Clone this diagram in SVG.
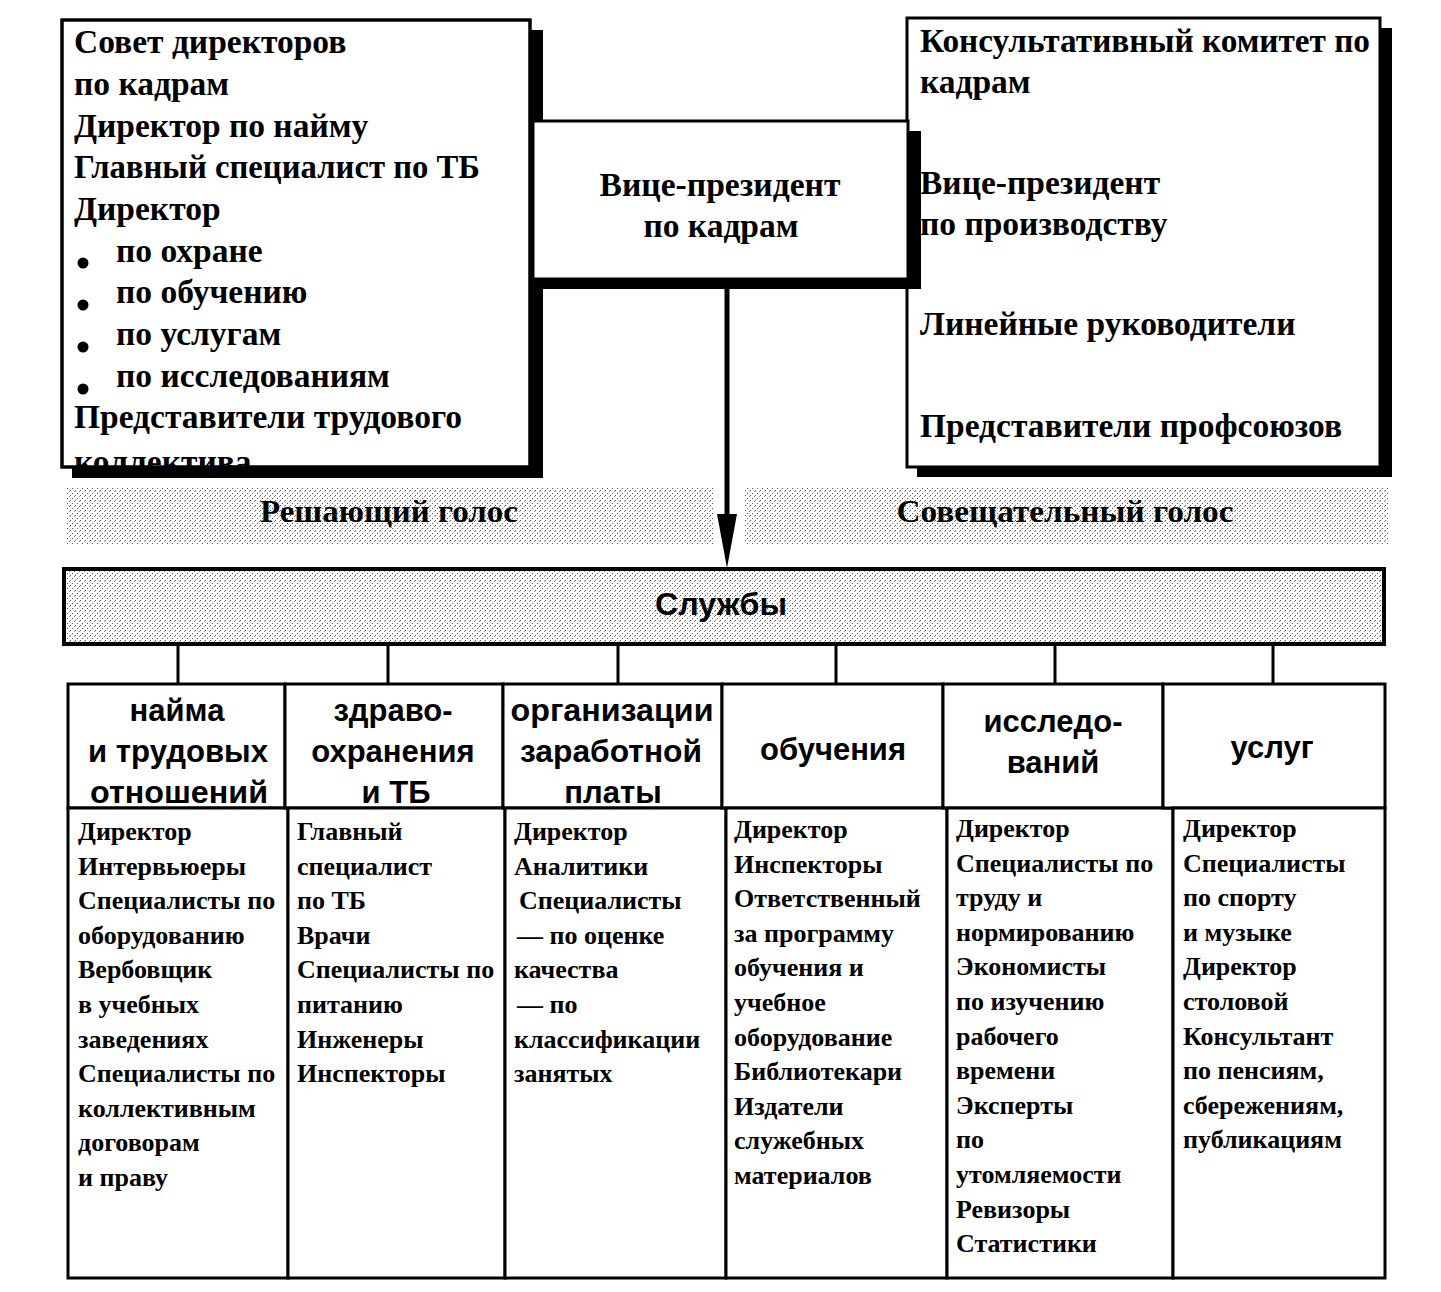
<svg xmlns="http://www.w3.org/2000/svg" width="1441" height="1292" viewBox="0 0 1441 1292">
<style>
.box{fill:#fff;stroke:#000;stroke-width:3}
.sh{fill:#000}
.t{font-family:"Liberation Serif","Times New Roman",serif;font-weight:bold;font-size:33.5px;fill:#000}
.lbl{font-family:"Liberation Serif","Times New Roman",serif;font-weight:bold;font-size:32px;fill:#000;text-anchor:middle}
.b{font-family:"Liberation Serif","Times New Roman",serif;font-weight:bold;font-size:26px;fill:#000}
.h{font-family:"Liberation Sans",Arial,sans-serif;font-weight:bold;font-size:31px;fill:#000;text-anchor:middle}
.ln{stroke:#000;stroke-width:3;fill:none}
.dot{fill:url(#stipple)}
</style>
<defs>
<pattern id="stipple" width="5" height="5" patternUnits="userSpaceOnUse">
<rect width="5" height="5" fill="#fff"/>
<rect x="0" y="0" width="1" height="1" fill="#555"/>
<rect x="2" y="3" width="1" height="1" fill="#555"/>
<rect x="4" y="1" width="1" height="1" fill="#888"/>
</pattern>
<clipPath id="clipL"><rect x="62" y="20" width="468" height="447"/></clipPath>
<marker id="arr" markerWidth="54" markerHeight="20" refX="26" refY="10" orient="auto" markerUnits="userSpaceOnUse" viewBox="0 0 54 20">
<path d="M0,0 L54,10 L0,20 Z" fill="#000"/>
</marker>
</defs>

<g id="band">
<rect class="dot" x="66" y="488" width="648" height="56"/>
<rect class="dot" x="745" y="488" width="643" height="56"/>
<text class="lbl" x="389" y="522" textLength="258" lengthAdjust="spacingAndGlyphs">Решающий голос</text>
<text class="lbl" x="1065" y="522" textLength="337" lengthAdjust="spacingAndGlyphs">Совещательный голос</text>
</g>

<g id="council">
<rect class="sh" x="72" y="30" width="471" height="448"/>
<rect class="box" x="62" y="20" width="468" height="447"/>
<g clip-path="url(#clipL)">
<text class="t" x="74" y="53">Совет директоров</text>
<text class="t" x="74" y="95">по кадрам</text>
<text class="t" x="74" y="137">Директор по найму</text>
<text class="t" x="74" y="178" textLength="406" lengthAdjust="spacingAndGlyphs">Главный специалист по ТБ</text>
<text class="t" x="74" y="220">Директор</text>
<circle cx="83" cy="263" r="5.5"/>
<text class="t" x="116" y="262">по охране</text>
<circle cx="83" cy="305" r="5.5"/>
<text class="t" x="116" y="303">по обучению</text>
<circle cx="83" cy="347" r="5.5"/>
<text class="t" x="116" y="345">по услугам</text>
<circle cx="83" cy="389" r="5.5"/>
<text class="t" x="116" y="387">по исследованиям</text>
<text class="t" x="74" y="428">Представители трудового</text>
<text class="t" x="74" y="473">коллектива</text>
</g>
<rect x="62" y="20" width="468" height="447" fill="none" stroke="#000" stroke-width="3"/>
</g>

<g id="committee">
<rect class="sh" x="917" y="28" width="475" height="449"/>
<rect class="box" x="907" y="18" width="473" height="449"/>
<text class="t" x="920" y="52" textLength="450" lengthAdjust="spacingAndGlyphs">Консультативный комитет по</text>
<text class="t" x="920" y="93">кадрам</text>
<text class="t" x="920" y="194">Вице-президент</text>
<text class="t" x="920" y="235">по производству</text>
<text class="t" x="920" y="335">Линейные руководители</text>
<text class="t" x="920" y="437">Представители профсоюзов</text>
</g>

<g id="vp">
<rect class="sh" x="543" y="131" width="378" height="158"/>
<rect class="box" x="533" y="121" width="375" height="158"/>
<text class="t" x="720" y="196" text-anchor="middle" textLength="241" lengthAdjust="spacingAndGlyphs">Вице-президент</text>
<text class="t" x="721" y="237" text-anchor="middle">по кадрам</text>
</g>

<g id="services">
<rect x="64" y="569" width="1320" height="75" fill="url(#stipple)" stroke="#000" stroke-width="4"/>
<text class="h" x="721" y="615" textLength="132" lengthAdjust="spacingAndGlyphs">Службы</text>
</g>

<g id="connectors">
<line x1="727" y1="280" x2="727" y2="540" stroke="#000" stroke-width="5" marker-end="url(#arr)"/>
<line class="ln" x1="178" y1="644" x2="178" y2="684"/>
<line class="ln" x1="388" y1="644" x2="388" y2="684"/>
<line class="ln" x1="618" y1="644" x2="618" y2="684"/>
<line class="ln" x1="836" y1="644" x2="836" y2="684"/>
<line class="ln" x1="1055" y1="644" x2="1055" y2="684"/>
<line class="ln" x1="1273" y1="644" x2="1273" y2="684"/>
</g>

<g id="col-hiring">
<rect class="box" x="68" y="684" width="217" height="124"/>
<rect class="box" x="68" y="808" width="220" height="470"/>
<text class="h" x="177" y="721">найма</text>
<text class="h" x="178" y="762" textLength="180" lengthAdjust="spacingAndGlyphs">и трудовых</text>
<text class="h" x="179" y="803" textLength="178" lengthAdjust="spacingAndGlyphs">отношений</text>
<text class="b" x="78" y="840">Директор</text>
<text class="b" x="78" y="875">Интервьюеры</text>
<text class="b" x="78" y="909">Специалисты по</text>
<text class="b" x="78" y="944">оборудованию</text>
<text class="b" x="78" y="978">Вербовщик</text>
<text class="b" x="78" y="1013">в учебных</text>
<text class="b" x="78" y="1048">заведениях</text>
<text class="b" x="78" y="1082">Специалисты по</text>
<text class="b" x="78" y="1117">коллективным</text>
<text class="b" x="78" y="1151">договорам</text>
<text class="b" x="78" y="1186">и праву</text>
</g>

<g id="col-health">
<rect class="box" x="285" y="684" width="218" height="124"/>
<rect class="box" x="288" y="808" width="217" height="470"/>
<text class="h" x="393" y="721">здраво-</text>
<text class="h" x="393" y="762">охранения</text>
<text class="h" x="396" y="803">и ТБ</text>
<text class="b" x="297" y="840">Главный</text>
<text class="b" x="297" y="875">специалист</text>
<text class="b" x="297" y="909">по ТБ</text>
<text class="b" x="297" y="944">Врачи</text>
<text class="b" x="297" y="978">Специалисты по</text>
<text class="b" x="297" y="1013">питанию</text>
<text class="b" x="297" y="1048">Инженеры</text>
<text class="b" x="297" y="1082">Инспекторы</text>
</g>

<g id="col-pay">
<rect class="box" x="503" y="684" width="219" height="124"/>
<rect class="box" x="505" y="808" width="221" height="470"/>
<text class="h" x="612" y="721" textLength="203" lengthAdjust="spacingAndGlyphs">организации</text>
<text class="h" x="611" y="762" textLength="182" lengthAdjust="spacingAndGlyphs">заработной</text>
<text class="h" x="613" y="803">платы</text>
<text class="b" x="514" y="840">Директор</text>
<text class="b" x="514" y="875">Аналитики</text>
<text class="b" x="519" y="909">Специалисты</text>
<text class="b" x="517" y="944">—  по оценке</text>
<text class="b" x="514" y="978">качества</text>
<text class="b" x="517" y="1013">—  по</text>
<text class="b" x="514" y="1048">классификации</text>
<text class="b" x="514" y="1082">занятых</text>
</g>

<g id="col-training">
<rect class="box" x="722" y="684" width="221" height="124"/>
<rect class="box" x="726" y="808" width="221" height="470"/>
<text class="h" x="833" y="760">обучения</text>
<text class="b" x="734" y="838">Директор</text>
<text class="b" x="734" y="873">Инспекторы</text>
<text class="b" x="734" y="907">Ответственный</text>
<text class="b" x="734" y="942">за программу</text>
<text class="b" x="734" y="976">обучения и</text>
<text class="b" x="734" y="1011">учебное</text>
<text class="b" x="734" y="1046">оборудование</text>
<text class="b" x="734" y="1080">Библиотекари</text>
<text class="b" x="734" y="1115">Издатели</text>
<text class="b" x="734" y="1149">служебных</text>
<text class="b" x="734" y="1184">материалов</text>
</g>

<g id="col-research">
<rect class="box" x="943" y="684" width="220" height="124"/>
<rect class="box" x="947" y="808" width="226" height="470"/>
<text class="h" x="1053" y="732">исследо-</text>
<text class="h" x="1053" y="773">ваний</text>
<text class="b" x="956" y="837">Директор</text>
<text class="b" x="956" y="872">Специалисты по</text>
<text class="b" x="956" y="906">труду и</text>
<text class="b" x="956" y="941">нормированию</text>
<text class="b" x="956" y="975">Экономисты</text>
<text class="b" x="956" y="1010">по изучению</text>
<text class="b" x="956" y="1045">рабочего</text>
<text class="b" x="956" y="1079">времени</text>
<text class="b" x="956" y="1114">Эксперты</text>
<text class="b" x="956" y="1148">по</text>
<text class="b" x="956" y="1183">утомляемости</text>
<text class="b" x="956" y="1218">Ревизоры</text>
<text class="b" x="956" y="1252">Статистики</text>
</g>

<g id="col-services">
<rect class="box" x="1163" y="684" width="222" height="124"/>
<rect class="box" x="1173" y="808" width="212" height="470"/>
<text class="h" x="1272" y="758">услуг</text>
<text class="b" x="1183" y="837">Директор</text>
<text class="b" x="1183" y="872">Специалисты</text>
<text class="b" x="1183" y="906">по спорту</text>
<text class="b" x="1183" y="941">и музыке</text>
<text class="b" x="1183" y="975">Директор</text>
<text class="b" x="1183" y="1010">столовой</text>
<text class="b" x="1183" y="1045">Консультант</text>
<text class="b" x="1183" y="1079">по пенсиям,</text>
<text class="b" x="1183" y="1114">сбережениям,</text>
<text class="b" x="1183" y="1148">публикациям</text>
</g>
</svg>
